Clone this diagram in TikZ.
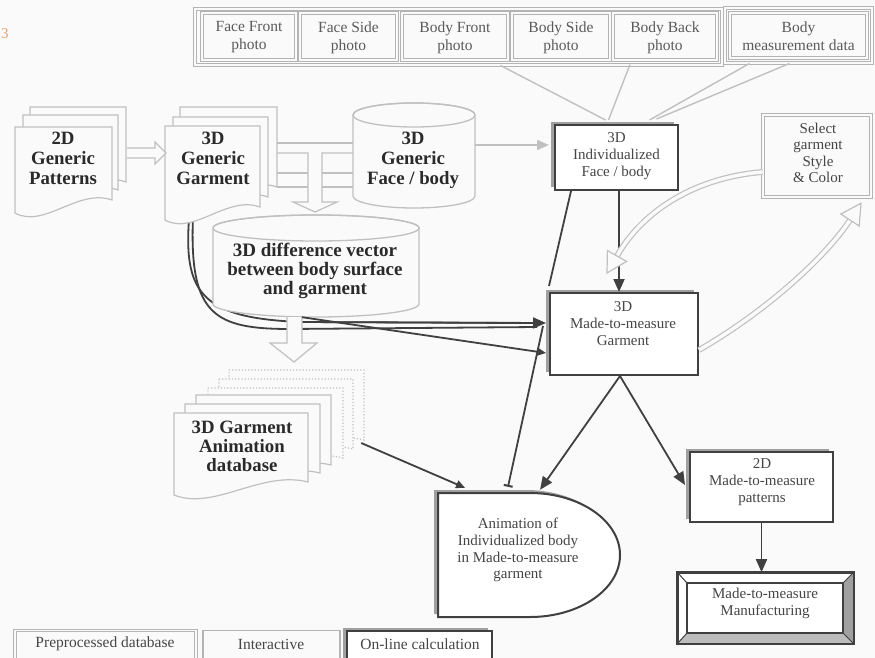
\documentclass[tikz,border=0pt]{standalone}
\usepackage{fontspec}
\setmainfont{Liberation Serif}
\usetikzlibrary{arrows.meta,shadows}
\definecolor{lg}{HTML}{C0C0C0}
\definecolor{lgb}{HTML}{B4B4B4}
\definecolor{dk}{HTML}{404040}
\definecolor{tx}{HTML}{2A2A2A}
\definecolor{tg}{HTML}{454545}
\definecolor{tl}{HTML}{5A5A5A}
\definecolor{bg}{HTML}{FAFAFA}
\definecolor{shd}{HTML}{A0A0A0}
\definecolor{org}{HTML}{E8A070}
\tikzset{
  rmtext/.style={font=\fontsize{15}{17}\selectfont, text=tg, align=center, inner sep=0pt},
  bftext/.style={font=\fontsize{18.8}{20}\selectfont\bfseries, text=tx, align=center, inner sep=0pt},
  lgbox/.style={draw=lgb, line width=0.9pt, double=bg, double distance=1.3pt, fill=bg, inner sep=0pt},
  dkbox/.style={draw=dk, line width=2pt, fill=white, inner sep=0pt,
     general shadow={fill=shd, shadow xshift=-4pt, shadow yshift=3pt}},
  ghost/.style={inner sep=0pt, draw=none},
  lgline/.style={draw=lg, line width=1.4pt},
  dkline/.style={draw=dk, line width=1.8pt},
  bigtip/.style={-{Triangle[length=13pt,width=11pt]}},
  smalltip/.style={-{Triangle[length=9pt,width=8pt]}},
  pg/.style={draw=lg, line width=1.2pt, fill=bg},
  pgdot/.style={draw=lg, line width=1.2pt, dotted, fill=bg},
  cyl/.style={draw=lg, line width=1.3pt, fill=bg},
  hollow/.style={draw=lg, line width=1.2pt, fill=bg, line join=miter},
  curvy/.style={draw=lg, line width=1.2pt, double=bg, double distance=3.5pt},
  curvyhead/.style={draw=lg, line width=1.2pt, fill=bg, line join=miter},
  phototext/.style={rmtext, text=tl, font=\fontsize{15.5}{18}\selectfont},
}
\newcommand{\docpage}[5][pg]{%
  \path[#1] (#2,#3) -- (#4,#3) -- (#4,#5-13) .. controls ({#2+0.65*(#4-#2)},#5-25) and ({#2+0.3*(#4-#2)},#5+16) .. (#2,#5) -- cycle;}
\begin{document}
\begin{tikzpicture}[x=1pt,y=-1pt]
\clip (0,0) rectangle (875,658);
\fill[bg] (0,0) rectangle (875,658);
\node[text=org, font=\fontsize{15}{15}\selectfont, inner sep=0pt] (mark) at (5,34) {3};

% anchor nodes for drawn shapes
\node[ghost, minimum width=111pt, minimum height=106pt] (pat) at (70.5,160) {};
\node[ghost, minimum width=112pt, minimum height=113pt] (garm) at (221,163.5) {};
\node[ghost, minimum width=122pt, minimum height=105pt] (gface) at (414,155.5) {};
\node[ghost, minimum width=206pt, minimum height=102pt] (diff) at (316,266) {};
\node[ghost, minimum width=190pt, minimum height=131pt] (gadb) at (269,435.5) {};
\node[ghost, minimum width=182pt, minimum height=124pt] (anim) at (529,555) {};

% top photo group
\draw[lgb, line width=0.9pt, double=bg, double distance=1.3pt] (195,9) rectangle (722,65);
\draw[lgb, line width=0.9pt, double=bg, double distance=1.3pt] (725,8) rectangle (872,63);
\node[lgbox, minimum width=94pt, minimum height=47pt] (ff) at (249,36.5) {};
\node[lgbox, minimum width=97pt, minimum height=47pt] (fs) at (348.5,36.5) {};
\node[lgbox, minimum width=106pt, minimum height=47pt] (bf) at (455,36.5) {};
\node[lgbox, minimum width=98pt, minimum height=47pt] (bs) at (561,36.5) {};
\node[lgbox, minimum width=104pt, minimum height=47pt] (bb) at (665,36.5) {};
\node[lgbox, minimum width=137pt, minimum height=45pt] (bm) at (798.5,35.5) {};
\node[phototext] (fftx) at (249,37.5) {Face Front\\photo};
\node[phototext] (fstx) at (348.5,37.5) {Face Side\\photo};
\node[phototext] (bftx) at (455,37.5) {Body Front\\photo};
\node[phototext] (bstx) at (561,37.5) {Body Side\\photo};
\node[phototext] (bbtx) at (665,37.5) {Body Back\\photo};
\node[phototext] (bmtx) at (798.5,36.5) {Body\\measurement data};

% dark boxes
\node[dkbox, minimum width=123pt, minimum height=65pt] (indiv) at (616.5,157.5) {};
\node[dkbox, minimum width=148pt, minimum height=82pt] (mtm) at (624,334) {};
\node[dkbox, minimum width=143pt, minimum height=70pt] (pat2d) at (761.5,487) {};
\node[lgbox, minimum width=108pt, minimum height=82pt] (sel) at (817,156) {};

% photo connectors
\draw[lgline] ([xshift=-8pt,yshift=-5pt]bf.south east) -- ([xshift=-11pt,yshift=4pt]indiv.north);
\draw[lgline] ([xshift=-35pt,yshift=-4pt]bb.south) -- ([xshift=-8pt,yshift=4pt]indiv.north);
\draw[lgline] ([xshift=20pt,yshift=-5pt]bm.south west) -- ([xshift=33pt,yshift=4pt]indiv.north);
\draw[lgline] ([xshift=60pt,yshift=-5pt]bm.south west) -- ([xshift=40pt,yshift=5pt]indiv.north);

% manufacturing bevel box
\node[draw=dk, line width=1.6pt, fill=white, minimum width=175pt, minimum height=70pt, inner sep=0pt] (manuf) at (765.5,608) {};
\fill[shd] (manuf.north east) -- (manuf.south east) -- (843,633) -- (843,583) -- cycle;
\fill[shd!70] (manuf.south west) -- (manuf.south east) -- (843,633) -- (687,633) -- cycle;
\draw[dk, line width=1.6pt] (manuf.north west) rectangle (manuf.south east);
\draw[dk, line width=1.6pt] (687,583) rectangle (843,633);
\draw[dk, line width=1pt] (manuf.north west) -- (687,583) (manuf.north east) -- (843,583)
  (manuf.south west) -- (687,633) (manuf.south east) -- (843,633);

% curves from generic garment (under the cylinder)
\draw[dkline] ([xshift=24pt,yshift=-2pt]garm.south west) .. controls (184,295) and (205,318) .. (300,322) -- (520,323);
\draw[dkline, bigtip] (300,322) -- ([xshift=-3pt,yshift=11pt]mtm.west);
\draw[dkline] ([xshift=28pt,yshift=-2pt]garm.south west) .. controls (190,315) and (215,329) .. (290,329) -- ([xshift=-12pt,yshift=7pt]mtm.west);

% stacks
\docpage{30}{107}{126}{195}
\docpage{23}{115}{118}{203}
\docpage{15}{127}{112}{213}
\docpage{180}{107}{277}{200}
\docpage{173}{117}{268}{210}
\docpage{165}{126}{260}{220}

% hollow arrow patterns -> garment
\path[hollow] (127,148) -- (155,148) -- (155,142) -- (166,153) -- (155,164) -- (155,158) -- (127,158);

% hollow connector garment -> face, and down
\draw[lg, line width=1.2pt] (277,143) -- (353,143);
\draw[lg, line width=1.2pt, fill=bg] (277,153) -- (308,153) -- (308,202) -- (293,202) -- (315,212) -- (337,202) -- (322,202) -- (322,153) -- (353,153);
\draw[lg, line width=1.2pt] (277,173) -- (308,173) (322,173) -- (353,173);
\draw[lg, line width=1.2pt] (277,187) -- (308,187) (322,187) -- (353,187);

% generic face cylinder
\path[cyl] (353,115) -- (353,196) arc[start angle=180, end angle=0, x radius=61, y radius=12] -- (475,115) arc[start angle=0, end angle=-180, x radius=61, y radius=12] -- cycle;
\draw[lg, line width=1.3pt] (414,115) ellipse[x radius=61, y radius=12];

% difference cylinder
\path[cyl] (213,228) -- (213,304) arc[start angle=180, end angle=0, x radius=103, y radius=13] -- (419,228) arc[start angle=0, end angle=-180, x radius=103, y radius=13] -- cycle;
\draw[lg, line width=1.3pt] (316,228) ellipse[x radius=103, y radius=13];

% hollow arrow diff -> database
\path[hollow] (287,317) -- (287,343) -- (270,343) -- (294,362) -- (317,343) -- (302,343) -- (302,317);

% database stack
\docpage[pgdot]{229}{370}{364}{453}
\docpage[pgdot]{219}{379}{353}{462}
\docpage[pgdot]{208}{388}{343}{471}
\docpage{196}{395}{331}{478}
\docpage{185}{404}{320}{486}
\docpage{174}{413}{308}{495}

% animation shape
\path[draw=dk, line width=2pt, fill=white, general shadow={fill=shd, shadow xshift=-4pt, shadow yshift=3pt}]
  (438,493) -- (530,493) arc[start angle=-90, end angle=90, x radius=90, y radius=62] -- (438,617) -- cycle;

% dark connectors
\draw[dkline, smalltip] ([xshift=-14pt]diff.south) -- ([xshift=-3pt,yshift=-19pt]mtm.west);
\draw[dkline, {Bar[width=9pt,line width=2pt]}-] ([xshift=-21pt,yshift=6pt]anim.north) -- ([xshift=-6pt,yshift=8pt]mtm.west);
\draw[dkline, smalltip] ([xshift=-3pt,yshift=-7.5pt]gadb.east) -- ([xshift=-64pt,yshift=5pt]anim.north);
\draw[dkline, bigtip] ([xshift=2.5pt]indiv.south) -- ([xshift=-5pt]mtm.north);
\draw[dkline] ([xshift=17pt]indiv.south west) -- ([yshift=6pt]mtm.north west);
\draw[dkline, bigtip] ([xshift=-4pt]mtm.south) -- ([xshift=11pt,yshift=3pt]anim.north);
\draw[dkline, bigtip] ([xshift=-4pt]mtm.south) -- ([xshift=-4pt,yshift=2pt]pat2d.west);
\draw[dkline, bigtip] (pat2d.south) -- ([xshift=-4pt]manuf.north);

% light connectors
\draw[lgline, -{Triangle[length=12pt,width=10pt]}] ([yshift=10.5pt]gface.east) -- ([yshift=12.5pt,xshift=-5pt]indiv.west);
\draw[curvy] ([yshift=-16pt]sel.west) .. controls (690,178) and (640,215) .. (617,256);
\path[curvyhead] (626.6,261.4) -- (607,273) -- (607.4,250.6) -- cycle;
\draw[curvy] ([yshift=-16pt]mtm.east) .. controls (765,312) and (825,258) .. (850,220);
\path[curvyhead] (859.2,226) -- (861,203.3) -- (840.8,214) -- cycle;

% texts
\node[bftext] (pattx) at (63,158) {2D\\Generic\\Patterns};
\node[bftext] (gartx) at (213,158) {3D\\Generic\\Garment};
\node[bftext] (gfacetx) at (413,160) {3D\\Generic\\Face / body};
\node[bftext, font=\fontsize{19}{19}\selectfont\bfseries] (difftx) at (315,271) {3D difference vector\\between body surface\\and garment};
\node[bftext, font=\fontsize{18.8}{19}\selectfont\bfseries] (dbtx) at (242,446) {3D Garment\\Animation\\database};
\node[rmtext] (indivtx) at (616.5,156) {3D\\Individualized\\Face / body};
\node[rmtext] (mtmtx) at (623,324) {3D\\Made-to-measure\\Garment};
\node[rmtext] (pat2dtx) at (762,482) {2D\\Made-to-measure\\patterns};
\node[rmtext] (manuftx) at (765,603) {Made-to-measure\\Manufacturing};
\node[rmtext, font=\fontsize{15}{16.5}\selectfont] (seltx) at (818,153) {Select\\garment\\Style\\\& Color};
\node[rmtext, font=\fontsize{15}{16.7}\selectfont] (animtx) at (518,550) {Animation of\\Individualized body\\in Made-to-measure\\garment};

% legend
\node[lgbox, minimum width=181pt, minimum height=40pt, anchor=north] (leg1) at (105.5,630) {};
\node[draw=lgb, line width=1.2pt, fill=bg, minimum width=137pt, minimum height=40pt, anchor=north, inner sep=0pt] (leg2) at (271.5,630) {};
\node[dkbox, minimum width=145pt, minimum height=40pt, anchor=north] (leg3) at (419.5,630) {};
\node[rmtext, font=\fontsize{15.5}{17}\selectfont] (leg1tx) at (105,644) {Preprocessed database};
\node[rmtext, font=\fontsize{15.5}{17}\selectfont] (leg2tx) at (271,644) {Interactive};
\node[rmtext, font=\fontsize{15.5}{17}\selectfont] (leg3tx) at (420,644) {On-line calculation};
\end{tikzpicture}
\end{document}
